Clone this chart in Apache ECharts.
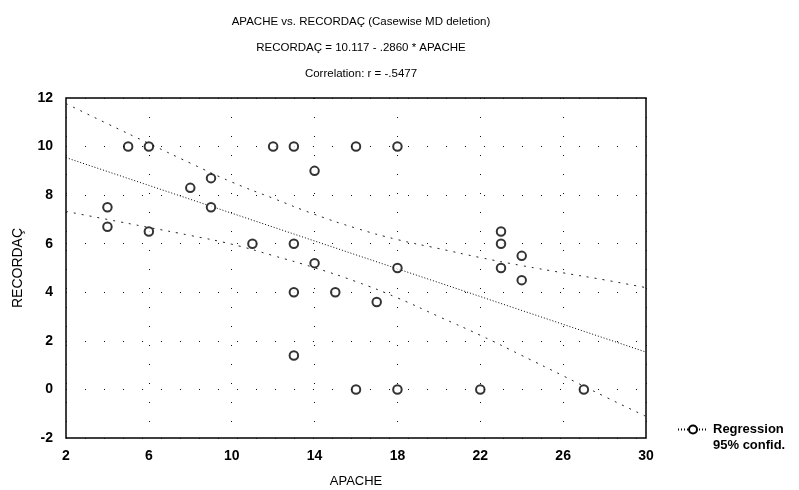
<!DOCTYPE html>
<html>
<head>
<meta charset="utf-8">
<script src="https://cdn.jsdelivr.net/npm/echarts@6/dist/echarts.min.js"></script>
<style>html,body{margin:0;padding:0;background:#fff}#c{width:799px;height:490px}</style>
</head>
<body>
<div id="c"></div>
<script>
// Observations (APACHE, RECORDAÇ)
var apache =   [4, 4, 5, 6, 6, 8, 9, 9, 11, 12, 13, 13, 13, 13, 14, 14, 15, 16, 16, 17, 18, 18, 18, 22, 23, 23, 23, 24, 24, 27];
var recordac = [7.5, 6.7, 10, 10, 6.5, 8.3, 8.7, 7.5, 6, 10, 10, 6, 4, 1.4, 9, 5.2, 4, 10, 0, 3.6, 10, 5, 0, 0, 6.5, 6, 5, 5.5, 4.5, 0];
var regX = [2, 30];
var regY = [9.545, 1.537];
// 95% confidence band
var bandX =  [2, 4, 6, 8, 10, 12, 14, 16, 18, 20, 22, 24, 26, 28, 30];
var upperY = [11.77, 10.94, 10.13, 9.32, 8.54, 7.87, 7.21, 6.64, 6.17, 5.80, 5.43, 5.10, 4.80, 4.51, 4.19];
var lowerY = [7.33, 7.00, 6.67, 6.34, 5.98, 5.51, 5.01, 4.44, 3.77, 3.00, 2.23, 1.40, 0.56, -0.29, -1.11];
var xTicks = [2, 6, 10, 14, 18, 22, 26, 30];
var yTicks = [-2, 0, 2, 4, 6, 8, 10, 12];

function zip(a, b) { return a.map(function (v, i) { return [v, b[i]]; }); }

var chart = echarts.init(document.getElementById('c'));
var font = 'Liberation Sans, Arial, sans-serif';
chart.setOption({
  animation: false,
  title: {
    text: 'APACHE vs. RECORDAÇ (Casewise MD deletion)\nRECORDAÇ = 10.117 - .2860 * APACHE\nCorrelation: r = -.5477',
    left: 356, top: 4, textAlign: 'center',
    textStyle: { fontFamily: font, fontSize: 11.5, fontWeight: 'normal', color: '#000', lineHeight: 26 }
  },
  grid: { left: 66, right: 153, top: 98, bottom: 52, containLabel: false, outerBoundsMode: 'none',
    show: true, borderColor: '#000', borderWidth: 1.5, backgroundColor: 'transparent' },
  legend: {
    orient: 'vertical', left: 672, top: 418, itemGap: 3, itemWidth: 30, itemHeight: 10,
    textStyle: { fontFamily: font, fontSize: 13, fontWeight: 'bold', color: '#000' },
    data: [
      { name: 'Regression' },
      { name: '95% confid.', itemStyle: { opacity: 0 }, lineStyle: { opacity: 0 } }
    ]
  },
  xAxis: {
    type: 'value', min: 2, max: 30, interval: 4,
    name: 'APACHE', nameLocation: 'middle', nameGap: 37,
    nameTextStyle: { fontFamily: font, fontSize: 13, color: '#000' },
    axisLine: { show: false }, axisTick: { show: false },
    axisLabel: { fontFamily: font, fontSize: 14, fontWeight: 'bold', color: '#000', margin: 11,
      formatter: function (v) { return xTicks.indexOf(v) >= 0 ? String(v) : ''; } },
    splitLine: { show: true, lineStyle: { color: '#111', width: 1, type: [1, 18] } }
  },
  yAxis: {
    type: 'value', min: -2, max: 12, interval: 2,
    name: 'RECORDAÇ', nameLocation: 'middle', nameGap: 41,
    nameTextStyle: { fontFamily: font, fontSize: 14, color: '#000' },
    axisLine: { show: false }, axisTick: { show: false },
    axisLabel: { fontFamily: font, fontSize: 14, fontWeight: 'bold', color: '#000', margin: 13,
      formatter: function (v) { return yTicks.indexOf(v) >= 0 ? String(v) : ''; } },
    splitLine: { show: true, lineStyle: { color: '#111', width: 1, type: [1, 18] } }
  },
  series: [
    {
      name: 'Regression', type: 'line', data: zip(regX, regY), showSymbol: false,
      symbol: 'emptyCircle', symbolSize: 8,
      itemStyle: { color: '#000', borderWidth: 1.2 },
      lineStyle: { color: '#000', width: 1, type: [1, 2] }, z: 3
    },
    {
      name: '95% confid.', type: 'line', data: zip(bandX, upperY), smooth: true, showSymbol: false,
      lineStyle: { color: '#222', width: 1, type: [2, 6] }, z: 3
    },
    {
      name: '95% confid.', type: 'line', data: zip(bandX, lowerY), smooth: true, showSymbol: false,
      lineStyle: { color: '#222', width: 1, type: [2, 6] }, z: 3
    },
    {
      name: 'obs', type: 'scatter', data: zip(apache, recordac),
      symbol: 'emptyCircle', symbolSize: 8.5,
      itemStyle: { color: '#000', borderColor: '#000', borderWidth: 1.6 }, z: 4
    }
  ]
});
</script>
</body>
</html>
